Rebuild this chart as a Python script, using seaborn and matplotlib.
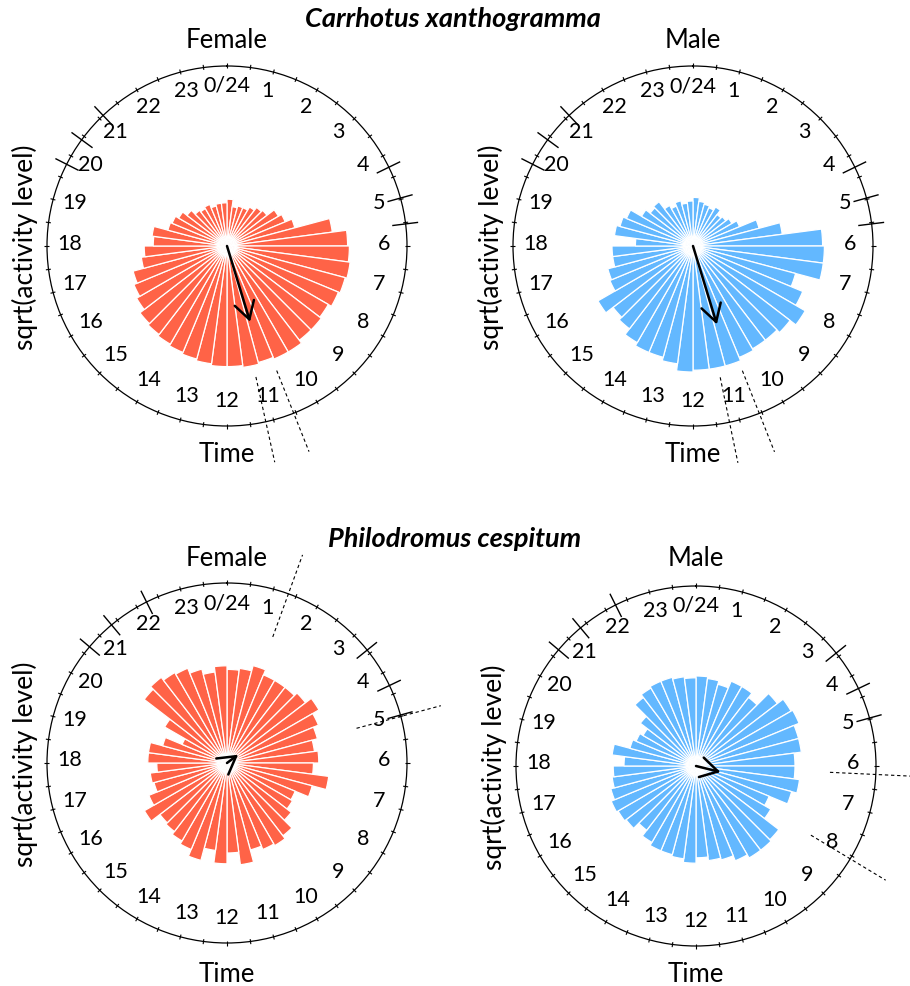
import numpy as np
import matplotlib
matplotlib.use('Agg')
import matplotlib.pyplot as plt
import matplotlib.transforms as mtransforms
import seaborn as sns

sns.set_theme(style='white')
plt.rcParams['font.family'] = ['Lato', 'DejaVu Sans']

# half-hour bins, value = sqrt(activity) scaled to the clock radius
bin_hours = np.arange(48) * 0.5 + 0.25
hour_labels = ['0/24'] + [str(h) for h in range(1, 24)]

carr_female = [0.26, 0.22, 0.23, 0.23, 0.25, 0.27, 0.28, 0.33, 0.35, 0.39, 0.59,
               0.67, 0.68, 0.69, 0.68, 0.67, 0.65, 0.66, 0.66, 0.68, 0.68, 0.67, 0.68, 0.67,
               0.67, 0.66, 0.65, 0.64, 0.63, 0.62, 0.61, 0.58, 0.56, 0.54, 0.48, 0.46,
               0.41, 0.42, 0.34, 0.33, 0.31, 0.28, 0.25, 0.24, 0.25, 0.23, 0.24, 0.24]
carr_male = [0.27, 0.25, 0.24, 0.23, 0.25, 0.22, 0.23, 0.25, 0.28, 0.38, 0.50,
             0.72, 0.73, 0.73, 0.59, 0.66, 0.72, 0.68, 0.66, 0.66, 0.67, 0.69, 0.69, 0.69,
             0.70, 0.66, 0.64, 0.64, 0.62, 0.58, 0.56, 0.61, 0.50, 0.49, 0.45, 0.45,
             0.32, 0.44, 0.42, 0.40, 0.33, 0.30, 0.31, 0.26, 0.24, 0.26, 0.24, 0.25]
phil_female = [0.52, 0.53, 0.56, 0.53, 0.53, 0.53, 0.55, 0.59, 0.55, 0.52, 0.49, 0.51,
               0.48, 0.57, 0.49, 0.41, 0.42, 0.45, 0.51, 0.53, 0.52, 0.50, 0.57, 0.50,
               0.56, 0.49, 0.56, 0.52, 0.50, 0.48, 0.47, 0.53, 0.47, 0.42, 0.43, 0.39,
               0.44, 0.44, 0.37, 0.27, 0.40, 0.58, 0.60, 0.58, 0.57, 0.54, 0.51, 0.54]
phil_male = [0.50, 0.49, 0.47, 0.51, 0.51, 0.48, 0.57, 0.61, 0.62, 0.59, 0.59, 0.55,
             0.55, 0.58, 0.55, 0.44, 0.48, 0.58, 0.59, 0.59, 0.57, 0.54, 0.53, 0.51,
             0.54, 0.52, 0.51, 0.51, 0.49, 0.45, 0.49, 0.50, 0.51, 0.49, 0.47, 0.46,
             0.40, 0.47, 0.38, 0.36, 0.34, 0.39, 0.48, 0.50, 0.51, 0.51, 0.50, 0.49]

# mean direction (hours) and resultant length
mean_hour = [10.87, 10.87, 3.55, 6.93]
mean_len = [0.44, 0.455, 0.077, 0.14]
# confidence limits of the mean (dashed)
ci_hours = [[11.17, 10.55], [11.22, 10.56], [1.33, 5.0], [6.18, 8.07]]
# sunrise / sunset range markers
sun_carr = [19.8, 20.41, 21.1, 4.27, 4.97, 5.53]
sun_phil = [20.68, 21.34, 22.23, 3.41, 4.3, 4.97]

RED = '#FF6347'
BLUE = '#63B8FF'

W, H = 910, 987
fig = plt.figure(figsize=(W / 100, H / 100), dpi=100)


def h2r(h):
    return np.asarray(h) * 2 * np.pi / 24


panels = [
    dict(c=(227, 247), vals=carr_female, col=RED, sex='Female', sun=sun_carr, sy=40, ty=455),
    dict(c=(693, 247), vals=carr_male, col=BLUE, sex='Male', sun=sun_carr, sy=40, ty=455),
    dict(c=(227, 764), vals=phil_female, col=RED, sex='Female', sun=sun_phil, sy=558, ty=975),
    dict(c=(696, 767), vals=phil_male, col=BLUE, sex='Male', sun=sun_phil, sy=558, ty=975),
]

R = 180
up = mtransforms.ScaledTranslation(0, 3.5 / 100, fig.dpi_scale_trans)

for i, p in enumerate(panels):
    cx, cy = p['c']
    ax = fig.add_axes([(cx - R) / W, 1 - (cy + R) / H, 2 * R / W, 2 * R / H], projection='polar')
    ax.set_theta_zero_location('N')
    ax.set_theta_direction(-1)
    ax.set_ylim(0, 1)
    ax.set_xticks([])
    ax.set_yticks([])
    ax.grid(False)
    ax.set_facecolor('none')
    ax.spines['polar'].set_linewidth(0.9)
    ax.spines['polar'].set_color('black')

    ax.bar(h2r(bin_hours), p['vals'], width=2 * np.pi / 48, color=p['col'],
           edgecolor='white', linewidth=0.9, zorder=2)

    # half-hour ticks on the dial
    ax.vlines(h2r(np.arange(48) * 0.5), 0.987, 1.015, color='black', lw=0.8, clip_on=False)
    # sunrise / sunset markers
    ax.vlines(h2r(p['sun']), 0.925, 1.07, color='black', lw=1.0, clip_on=False, zorder=4)
    # confidence limits
    ax.vlines(h2r(ci_hours[i]), 0.745, 1.23, color='black', lw=0.8, linestyles=(0, (3, 2.5)),
              clip_on=False, zorder=4)

    for h, lab in enumerate(hour_labels):
        ax.text(h2r(h), 0.875, lab, ha='center', va='center', fontsize=15.5,
                color='black', transform=ax.transData + up)

    ax.annotate('', xy=(h2r(mean_hour[i]), mean_len[i]), xytext=(0, 0),
                arrowprops=dict(arrowstyle='->,head_length=0.62,head_width=0.36',
                                mutation_scale=20, lw=1.8, color='black',
                                shrinkA=0, shrinkB=0), zorder=5)

    fig.text(cx / W, 1 - p['sy'] / H, p['sex'], ha='center', va='center', fontsize=18.5,
             color='black')
    fig.text(cx / W, 1 - p['ty'] / H, 'Time', ha='center', va='center', fontsize=18.5,
             color='black')
    fig.text((cx - 202) / W, 1 - cy / H, 'sqrt(activity level)', ha='center', va='center',
             rotation=90, fontsize=19, color='black')

fig.text(453 / W, 1 - 19 / H, 'Carrhotus xanthogramma', ha='center', va='center',
         fontsize=19.5, fontweight='bold', fontstyle='italic', color='black')
fig.text(455 / W, 1 - 539 / H, 'Philodromus cespitum', ha='center', va='center',
         fontsize=19.5, fontweight='bold', fontstyle='italic', color='black')

fig.savefig('out.png', dpi=100, facecolor='white')
